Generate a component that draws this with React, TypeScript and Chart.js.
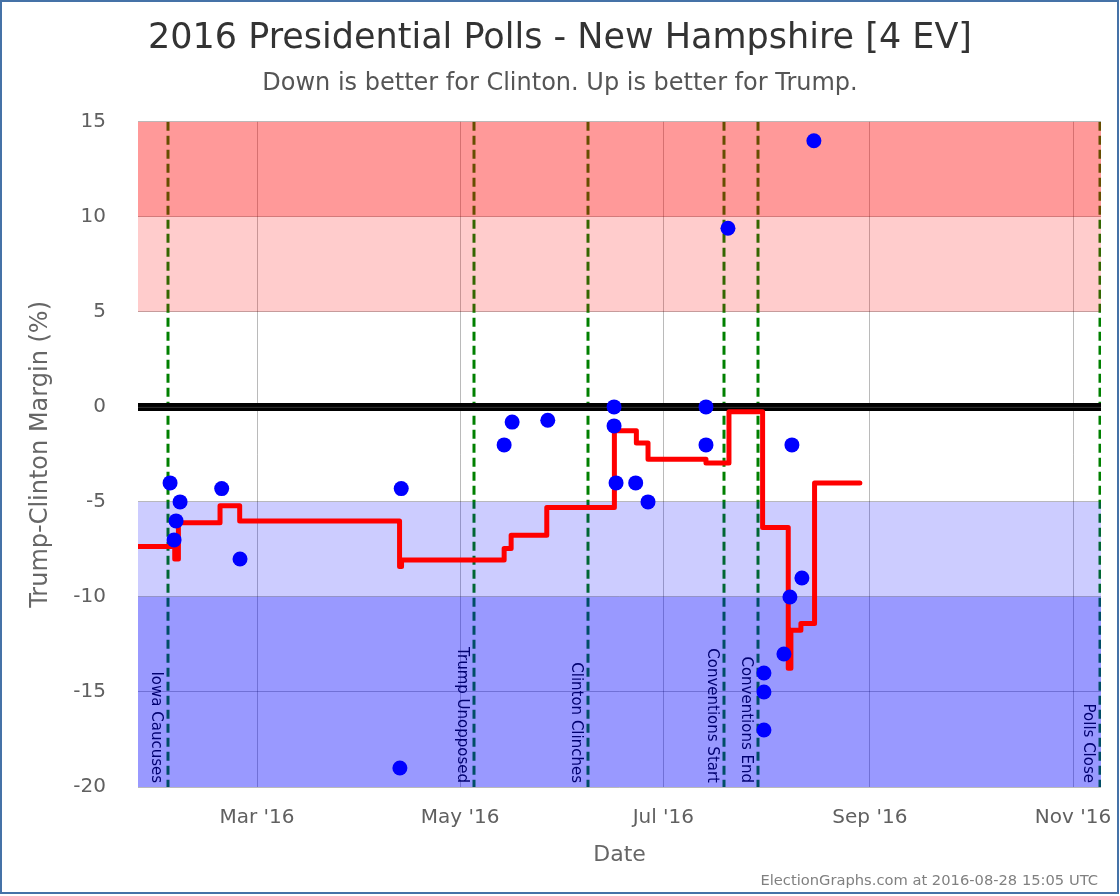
import React, { useEffect, useRef } from "react";
import { Chart, registerables } from "chart.js";

Chart.register(...registerables);

const FONT = '"DejaVu Sans", sans-serif';

const titleText = "2016 Presidential Polls - New Hampshire [4 EV]";
const subtitleText = "Down is better for Clinton. Up is better for Trump.";
const yAxisTitle = "Trump-Clinton Margin (%)";
const xAxisTitle = "Date";
const footerText = "ElectionGraphs.com at 2016-08-28 15:05 UTC";

// x values are days since 2016-01-01
const xMin = 24.27;
const xMax = 313.4;
const monthTickDays = [60, 121, 182, 244, 305];
const monthTickLabels = ["Mar '16", "May '16", "Jul '16", "Sep '16", "Nov '16"];

const yMin = -20;
const yMax = 15;
const yStep = 5;

// individual polls
const pollDays = [33.9, 35.7, 35.1, 36.9, 49.4, 54.9, 103.3, 102.9, 134.2, 136.6, 147.3, 167.2, 167.2, 167.8, 173.7, 177.4, 194.8, 194.8, 201.4, 212.2, 212.2, 212.2, 218.2, 220.0, 220.6, 223.6, 227.2];
const pollMargins = [-4, -6, -7, -5, -4.3, -8, -4.3, -19, -2, -0.8, -0.7, 0, -1, -4, -4, -5, 0, -2, 9.4, -14, -15, -17, -13, -10, -2, -9, 14];

// poll average (step line: each value holds until the next day listed)
const avgDays = [24.27, 35.3, 36.4, 48.9, 54.8, 102.8, 103.4, 134.2, 136.3, 147.0, 167.3, 173.9, 177.4, 194.8, 201.7, 211.8, 219.5, 220.3, 223.3, 227.4, 241.0];
const avgMargins = [-7.35, -8.0, -6.1, -5.2, -6.0, -8.4, -8.05, -7.45, -6.75, -5.3, -1.25, -1.9, -2.75, -2.95, -0.25, -6.35, -13.75, -11.75, -11.4, -4.0, -4.0];

// event markers
const eventDays = [33.28, 125.06, 159.3, 200.1, 210.4, 313.0];
const eventLabels = ["Iowa Caucuses", "Trump Unopposed", "Clinton Clinches", "Conventions Start", "Conventions End", "Polls Close"];

// shaded margin bands
const bandLows = [10, 5, -10, -20];
const bandHighs = [15, 10, -5, -10];
const bandColors = ["rgba(255,0,0,0.4)", "rgba(255,0,0,0.2)", "rgba(0,0,255,0.2)", "rgba(0,0,255,0.4)"];

const overlayPlugin = {
  id: "overlay",
  beforeDatasetsDraw(chart: any) {
    const { ctx, chartArea: a, scales } = chart;
    const x = scales.x;
    const y = scales.y;
    ctx.save();
    ctx.beginPath();
    ctx.rect(a.left, a.top, a.right - a.left, a.bottom - a.top);
    ctx.clip();
    // event lines
    ctx.strokeStyle = "#008000";
    ctx.lineWidth = 3;
    ctx.setLineDash([9, 5]);
    eventDays.forEach((d) => {
      const px = Math.round(x.getPixelForValue(d));
      ctx.beginPath();
      ctx.moveTo(px, a.top);
      ctx.lineTo(px, a.bottom);
      ctx.stroke();
    });
    ctx.setLineDash([]);
    // bands
    bandLows.forEach((lo, i) => {
      const t = y.getPixelForValue(bandHighs[i]);
      const b = y.getPixelForValue(lo);
      ctx.fillStyle = bandColors[i];
      ctx.fillRect(a.left, t, a.right - a.left, b - t);
    });
    // event labels
    ctx.fillStyle = "#000070";
    ctx.font = `15px ${FONT}`;
    ctx.textAlign = "right";
    ctx.textBaseline = "top";
    eventDays.forEach((d, i) => {
      const px = Math.round(x.getPixelForValue(d));
      ctx.save();
      ctx.translate(px - 5, a.bottom - 4);
      ctx.rotate(Math.PI / 2);
      ctx.fillText(eventLabels[i], 0, 0);
      ctx.restore();
    });
    // zero line
    const z = y.getPixelForValue(0);
    ctx.strokeStyle = "#000";
    ctx.lineWidth = 8;
    ctx.beginPath();
    ctx.moveTo(a.left, z);
    ctx.lineTo(a.right, z);
    ctx.stroke();
    ctx.strokeStyle = "#333";
    ctx.lineWidth = 1;
    ctx.beginPath();
    ctx.moveTo(a.left, z + 0.5);
    ctx.lineTo(a.right, z + 0.5);
    ctx.stroke();
    ctx.restore();
  },
  afterDraw(chart: any) {
    const { ctx } = chart;
    ctx.save();
    ctx.fillStyle = "#808080";
    ctx.font = `14.7px ${FONT}`;
    ctx.textAlign = "right";
    ctx.textBaseline = "alphabetic";
    ctx.fillText(footerText, 1098, 885);
    ctx.strokeStyle = "#4572A7";
    ctx.lineWidth = 2;
    ctx.strokeRect(1, 1, 1117, 892);
    ctx.restore();
  },
};

export default function App() {
  const ref = useRef<HTMLCanvasElement | null>(null);

  useEffect(() => {
    document.body.style.margin = "0";
    const canvas = ref.current;
    if (!canvas) return;
    const chart = new Chart(canvas, {
      data: {
        datasets: [
          {
            type: "scatter",
            data: pollDays.map((d, i) => ({ x: d, y: pollMargins[i] })),
            backgroundColor: "#0000ff",
            borderWidth: 0,
            pointRadius: 7.5,
            pointHoverRadius: 7.5,
          },
          {
            type: "line",
            data: avgDays.map((d, i) => ({ x: d, y: avgMargins[i] })),
            borderColor: "#ff0000",
            borderWidth: 5,
            borderCapStyle: "round",
            borderJoinStyle: "round",
            stepped: "before",
            pointRadius: 0,
            fill: false,
          },
        ],
      } as any,
      options: {
        responsive: false,
        animation: false,
        events: [],
        layout: { padding: 0 },
        plugins: {
          legend: { display: false },
          tooltip: { enabled: false },
          title: {
            display: true,
            text: titleText,
            color: "#333333",
            font: { family: FONT, size: 35, weight: "normal" },
            padding: { top: 18, bottom: 0 },
          },
          subtitle: {
            display: true,
            text: subtitleText,
            color: "#555555",
            font: { family: FONT, size: 24, weight: "normal" },
            padding: { top: 9, bottom: 24 },
          },
        },
        scales: {
          x: {
            type: "linear",
            min: xMin,
            max: xMax,
            afterBuildTicks: (s: any) => {
              s.ticks = monthTickDays.map((v) => ({ value: v }));
            },
            afterFit: (s: any) => {
              s.height = 109;
              s.paddingLeft = 0;
              s.paddingRight = 0;
            },
            ticks: {
              autoSkip: false,
              maxRotation: 0,
              padding: 19,
              color: "#606060",
              font: { family: FONT, size: 20 },
              callback: (v: any) => {
                const i = monthTickDays.indexOf(Number(v));
                return i >= 0 ? monthTickLabels[i] : "";
              },
            },
            grid: { color: "rgba(0,0,0,0.27)", drawTicks: false },
            border: { display: false },
            title: {
              display: true,
              text: xAxisTitle,
              color: "#666666",
              font: { family: FONT, size: 22 },
              padding: { top: 0, bottom: 28 },
            },
          },
          y: {
            type: "linear",
            position: "left",
            min: yMin,
            max: yMax,
            afterFit: (s: any) => {
              s.width = 138;
            },
            ticks: {
              stepSize: yStep,
              padding: 32,
              color: "#606060",
              font: { family: FONT, size: 20 },
            },
            grid: { color: "rgba(0,0,0,0.27)", drawTicks: false },
            border: { display: false },
            title: {
              display: true,
              text: yAxisTitle,
              color: "#666666",
              font: { family: FONT, size: 24 },
              padding: { top: 26, bottom: 0 },
            },
          },
          y2: {
            type: "linear",
            position: "right",
            display: true,
            afterFit: (s: any) => {
              s.width = 19;
              s.paddingTop = 0;
              s.paddingBottom = 0;
            },
            ticks: { display: false },
            grid: { display: false },
            border: { display: false },
          },
        },
      } as any,
      plugins: [overlayPlugin],
    });
    return () => chart.destroy();
  }, []);

  return <canvas ref={ref} width={1120} height={896} style={{ display: "block" }} />;
}
